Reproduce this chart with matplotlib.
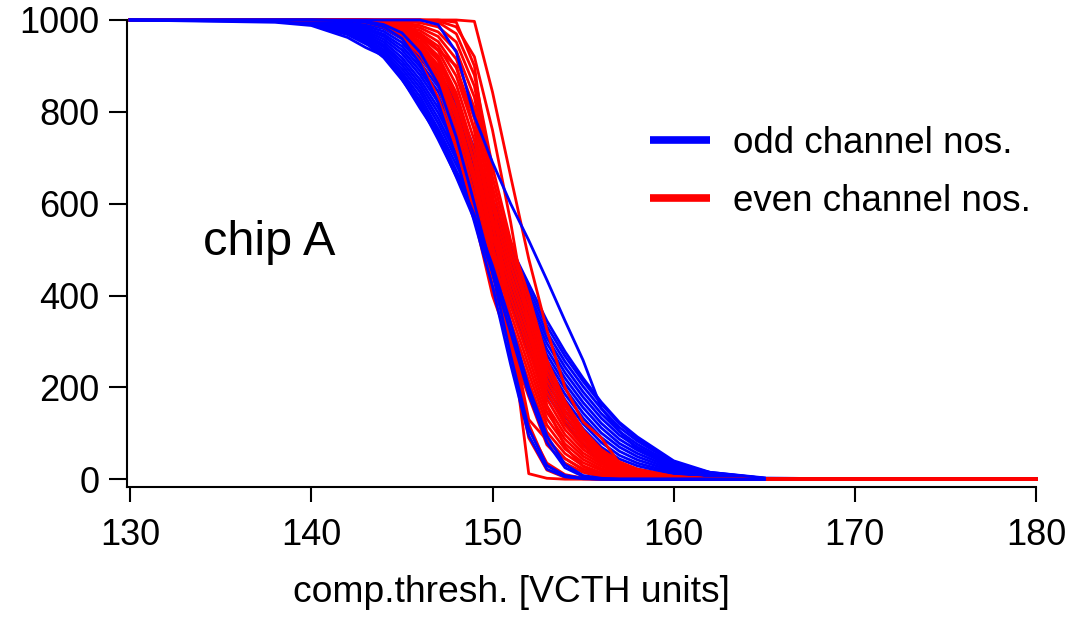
import matplotlib
matplotlib.use('Agg')
import matplotlib.pyplot as plt
from matplotlib.lines import Line2D

plt.rcParams['font.family'] = ['Liberation Sans', 'DejaVu Sans']

# ── Data: threshold scan (counts out of 1000) ─────────────────
vcth = [130, 138, 140, 142, 143, 144, 145, 146, 147, 148, 149, 150,
        151, 152, 153, 154, 155, 156, 157, 158, 160, 162, 165, 180]

# odd channels (blue): main band
odd_curves = [
    [1000, 1000, 990, 970, 950, 918, 870, 815, 740, 660, 585, 475, 380, 280, 185, 125, 75, 38, 18, 8, 2, 0, 0, 0],
    [1000, 1000, 991, 972, 954, 924, 878, 824, 752, 672, 595, 485, 390, 291, 197, 137, 87, 49, 27, 15, 5, 1, 0, 0],
    [1000, 1000, 992, 975, 957, 929, 886, 833, 763, 685, 606, 496, 399, 302, 210, 149, 98, 59, 35, 22, 8, 2, 0, 0],
    [1000, 1000, 992, 977, 961, 935, 894, 843, 775, 697, 616, 506, 409, 313, 222, 161, 110, 70, 44, 29, 11, 3, 0, 0],
    [1000, 1000, 993, 979, 965, 941, 902, 852, 786, 709, 627, 517, 418, 325, 234, 173, 121, 80, 52, 35, 14, 5, 0, 0],
    [1000, 1000, 994, 982, 968, 946, 910, 861, 798, 722, 637, 527, 428, 336, 247, 185, 133, 91, 61, 42, 17, 6, 1, 0],
    [1000, 1000, 995, 984, 972, 952, 918, 870, 809, 734, 647, 537, 438, 347, 259, 197, 144, 101, 70, 49, 20, 7, 1, 0],
    [1000, 1000, 995, 986, 976, 958, 927, 880, 821, 746, 658, 548, 447, 358, 271, 208, 156, 112, 78, 56, 23, 8, 1, 0],
    [1000, 1000, 996, 988, 980, 964, 935, 889, 832, 758, 668, 558, 457, 369, 283, 220, 167, 122, 87, 63, 26, 9, 1, 0],
    [1000, 1000, 997, 991, 983, 969, 943, 898, 844, 771, 678, 568, 467, 380, 296, 232, 179, 133, 96, 70, 29, 10, 1, 0],
    [1000, 1000, 998, 993, 987, 975, 951, 907, 855, 783, 689, 579, 476, 392, 308, 244, 190, 143, 104, 76, 32, 12, 1, 0],
    [1000, 1000, 998, 995, 991, 981, 959, 917, 867, 795, 699, 589, 486, 403, 320, 256, 202, 154, 113, 83, 36, 13, 2, 0],
    [1000, 1000, 999, 998, 994, 986, 967, 926, 878, 808, 710, 600, 495, 414, 333, 268, 213, 164, 121, 88, 37, 14, 2, 0],
    [1000, 1000, 1000, 1000, 998, 992, 975, 935, 890, 820, 720, 610, 505, 425, 345, 278, 220, 168, 124, 92, 40, 15, 2, 0],
]

# odd channels (blue): stray channels, visible over the red band
odd_stray = [
    [1000, 1000, 1000, 998, 995, 985, 960, 905, 820, 700, 560, 420, 250, 95, 22, 5, 1, 0, 0, 0, 0, 0, 0, 0],
    [1000, 1000, 1000, 999, 997, 990, 972, 930, 860, 745, 600, 450, 270, 110, 30, 8, 2, 0, 0, 0, 0, 0, 0, 0],
    [1000, 1000, 1000, 1000, 1000, 1000, 1000, 1000, 990, 930, 790, 690, 600, 520, 434, 345, 259, 155, 105, 65, 32, 15, 3, 0],
    [1000, 995, 988, 962, 940, 922, 872, 808, 748, 658, 565, 450, 320, 185, 80, 25, 6, 1, 0, 0, 0, 0, 0, 0],
    [1000, 997, 990, 968, 948, 930, 882, 818, 758, 668, 575, 465, 340, 200, 95, 32, 8, 2, 0, 0, 0, 0, 0, 0],
]

# even channels (red)
even_curves = [
    [1000, 1000, 1000, 1000, 998, 985, 960, 925, 860, 730, 570, 400, 290, 180, 75, 35, 15, 5, 2, 0, 0, 0, 0, 0],
    [1000, 1000, 1000, 1000, 998, 986, 963, 931, 870, 748, 594, 422, 308, 197, 89, 45, 22, 10, 5, 2, 0, 0, 0, 0],
    [1000, 1000, 1000, 1000, 998, 987, 966, 937, 881, 767, 618, 443, 325, 214, 103, 56, 29, 14, 8, 3, 1, 0, 0, 0],
    [1000, 1000, 1000, 1000, 998, 988, 969, 942, 891, 785, 642, 465, 343, 231, 118, 66, 36, 19, 10, 5, 1, 0, 0, 0],
    [1000, 1000, 1000, 1000, 999, 990, 972, 948, 902, 804, 665, 486, 361, 248, 132, 77, 43, 23, 13, 7, 2, 0, 0, 0],
    [1000, 1000, 1000, 1000, 999, 991, 975, 954, 912, 822, 689, 508, 378, 265, 146, 87, 50, 28, 16, 8, 2, 0, 0, 0],
    [1000, 1000, 1000, 1000, 999, 992, 978, 960, 922, 841, 713, 529, 396, 282, 160, 97, 57, 33, 19, 10, 3, 0, 0, 0],
    [1000, 1000, 1000, 1000, 999, 993, 982, 965, 933, 859, 737, 551, 414, 298, 175, 108, 65, 37, 21, 12, 3, 1, 0, 0],
    [1000, 1000, 1000, 1000, 999, 994, 985, 971, 943, 878, 761, 572, 432, 315, 189, 118, 72, 42, 24, 14, 4, 1, 0, 0],
    [1000, 1000, 1000, 1000, 999, 995, 988, 977, 953, 896, 785, 594, 449, 332, 203, 128, 79, 47, 27, 15, 4, 1, 0, 0],
    [1000, 1000, 1000, 1000, 1000, 997, 991, 983, 964, 915, 808, 615, 467, 349, 217, 139, 86, 51, 30, 17, 5, 1, 0, 0],
    [1000, 1000, 1000, 1000, 1000, 998, 994, 988, 974, 933, 832, 637, 485, 366, 232, 149, 93, 56, 32, 19, 5, 1, 0, 0],
    [1000, 1000, 1000, 1000, 1000, 999, 997, 994, 985, 952, 856, 658, 502, 383, 246, 160, 100, 60, 35, 20, 6, 1, 0, 0],
    [1000, 1000, 1000, 1000, 1000, 1000, 1000, 1000, 995, 970, 880, 680, 520, 400, 260, 170, 107, 65, 38, 22, 6, 1, 0, 0],
    [1000, 1000, 1000, 1000, 998, 993, 980, 950, 895, 800, 660, 480, 280, 90, 20, 4, 1, 0, 0, 0, 0, 0, 0, 0],
    [1000, 1000, 1000, 1000, 999, 996, 988, 965, 915, 830, 690, 510, 300, 110, 35, 10, 2, 0, 0, 0, 0, 0, 0, 0],
    [1000, 1000, 1000, 1000, 1000, 1000, 1000, 1000, 1000, 995, 900, 620, 330, 12, 2, 0, 0, 0, 0, 0, 0, 0, 0, 0],
    [1000, 1000, 1000, 1000, 1000, 1000, 1000, 1000, 1000, 1000, 997, 843, 660, 480, 325, 200, 125, 90, 35, 18, 5, 1, 0, 0],
    [1000, 1000, 1000, 1000, 995, 985, 960, 910, 830, 720, 590, 450, 310, 120, 30, 8, 2, 0, 0, 0, 0, 0, 0, 0],
    [1000, 1000, 1000, 1000, 1000, 998, 990, 970, 935, 900, 760, 560, 330, 130, 85, 45, 20, 8, 3, 0, 0, 0, 0, 0],
    [1000, 1000, 1000, 1000, 1000, 1000, 1000, 1000, 998, 985, 920, 760, 560, 330, 160, 70, 28, 10, 3, 1, 0, 0, 0, 0],
]

x_ticks = [130, 140, 150, 160, 170, 180]
y_ticks = [0, 200, 400, 600, 800, 1000]

C_ODD = '#0000FF'
C_EVEN = '#FF0000'

# ── Figure ────────────────────────────────────────────────────
fig = plt.figure(figsize=(10.86, 6.17), dpi=100)
ax = fig.add_axes([0.117, 0.2107, 0.837, 0.7569])

for ys in odd_curves:
    ax.plot(vcth, ys, color=C_ODD, lw=2.0, clip_on=False)
for ys in even_curves:
    ax.plot(vcth, ys, color=C_EVEN, lw=2.0, clip_on=False)
# strays drawn last, only over the transition (flat 0 tail stays red)
for ys in odd_stray:
    ax.plot(vcth[:-1], ys[:-1], color=C_ODD, lw=2.0, clip_on=False)

ax.set_xlim(129.83, 180)
ax.set_ylim(-17, 1000)
ax.set_xticks(x_ticks)
ax.set_yticks(y_ticks)

for s in ('top', 'right'):
    ax.spines[s].set_visible(False)
for s in ('left', 'bottom'):
    ax.spines[s].set_linewidth(1.5)
ax.tick_params(axis='x', length=11, width=1.5, pad=11, labelsize=26)
ax.tick_params(axis='y', length=13, width=1.5, pad=7, labelsize=26)

ax.text(134.0, 488, 'chip A', fontsize=35, va='baseline', ha='left')

handles = [Line2D([], [], color=C_ODD, lw=5.5, solid_capstyle='butt'),
           Line2D([], [], color=C_EVEN, lw=5.5, solid_capstyle='butt')]
ax.legend(handles, ['odd channel nos.', 'even channel nos.'],
          loc='upper left', bbox_to_anchor=(0.539, 0.845), frameon=False,
          fontsize=26.5, handlelength=1.63, handletextpad=0.62,
          labelspacing=0.63)

fig.text(293 / 1086, 1 - 602 / 617, 'comp.thresh. [VCTH units]',
         fontsize=26.8, ha='left', va='baseline')

fig.savefig('out.png', dpi=100, facecolor='white')
